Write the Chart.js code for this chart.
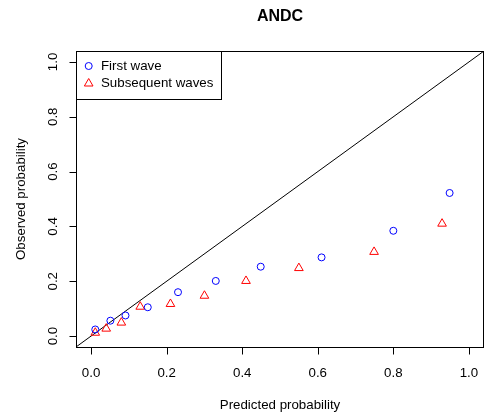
<!DOCTYPE html>
<html>
<head>
<meta charset="utf-8">
<script src="https://cdn.jsdelivr.net/npm/chart.js@4/dist/chart.umd.min.js"></script>
<style>
  html, body { margin: 0; padding: 0; background: #fff; overflow: hidden; }
  canvas { display: block; }
</style>
</head>
<body>
<canvas id="grafico" width="485" height="419"></canvas>
<script>
const titulo = 'ANDC'
const xLabel = 'Predicted probability'
const yLabel = 'Observed probability'
const seriesNames = ['First wave', 'Subsequent waves']
const tickValues = [0.0, 0.2, 0.4, 0.6, 0.8, 1.0]
const tickLabels = ['0.0', '0.2', '0.4', '0.6', '0.8', '1.0']
const axisMin = -0.04
const axisMax = 1.04

// first wave (blue circles)
const firstX = [0.011, 0.051, 0.091, 0.150, 0.230, 0.330, 0.449, 0.610, 0.800, 0.949]
const firstY = [0.024, 0.056, 0.075, 0.105, 0.160, 0.201, 0.253, 0.287, 0.384, 0.522]
// subsequent waves (red triangles)
const subsX = [0.011, 0.040, 0.080, 0.130, 0.210, 0.300, 0.410, 0.550, 0.749, 0.929]
const subsY = [0.012, 0.027, 0.049, 0.107, 0.117, 0.147, 0.201, 0.248, 0.307, 0.410]

const toPoints = (xs, ys) => xs.map((x, i) => ({x: x, y: ys[i]}))
const fonte = '"Liberation Sans", Arial, sans-serif'

const rPlot = {
    id: 'rPlot',
    beforeDatasetsDraw(chart) {
        const {ctx, chartArea: a, scales: {x, y}} = chart
        ctx.save()
        // abline(0,1)
        ctx.beginPath()
        ctx.rect(a.left, a.top, a.right - a.left, a.bottom - a.top)
        ctx.clip()
        ctx.strokeStyle = '#000'
        ctx.lineWidth = 1
        ctx.beginPath()
        ctx.moveTo(x.getPixelForValue(x.min), y.getPixelForValue(x.min))
        ctx.lineTo(x.getPixelForValue(x.max), y.getPixelForValue(x.max))
        ctx.stroke()
        ctx.restore()
    },
    afterDatasetsDraw(chart) {
        const {ctx, chartArea: a, scales: {x, y}} = chart
        ctx.save()
        ctx.strokeStyle = '#000'
        ctx.fillStyle = '#000'
        ctx.lineWidth = 1
        // box
        ctx.strokeRect(Math.round(a.left) + 0.5, Math.round(a.top) + 0.5,
            Math.round(a.right - a.left) - 1, Math.round(a.bottom - a.top))

        ctx.font = '13.3px ' + fonte
        // x axis
        const bx = Math.round(a.bottom) + 0.5
        ctx.beginPath()
        ctx.moveTo(Math.round(x.getPixelForValue(tickValues[0])) + 0.5, bx)
        ctx.lineTo(Math.round(x.getPixelForValue(tickValues[tickValues.length - 1])) + 0.5, bx)
        tickValues.forEach(v => {
            const px = Math.round(x.getPixelForValue(v)) + 0.5
            ctx.moveTo(px, bx)
            ctx.lineTo(px, bx + 7)
        })
        ctx.stroke()
        ctx.textAlign = 'center'
        ctx.textBaseline = 'middle'
        tickValues.forEach((v, i) => {
            ctx.fillText(tickLabels[i], x.getPixelForValue(v), 373)
        })
        // y axis
        const lx = Math.round(a.left) + 0.5
        ctx.beginPath()
        ctx.moveTo(lx, Math.round(y.getPixelForValue(tickValues[0])) + 0.5)
        ctx.lineTo(lx, Math.round(y.getPixelForValue(tickValues[tickValues.length - 1])) + 0.5)
        tickValues.forEach(v => {
            const py = Math.round(y.getPixelForValue(v)) + 0.5
            ctx.moveTo(lx, py)
            ctx.lineTo(lx - 7, py)
        })
        ctx.stroke()
        tickValues.forEach((v, i) => {
            ctx.save()
            ctx.translate(53, y.getPixelForValue(v))
            ctx.rotate(-Math.PI / 2)
            ctx.fillText(tickLabels[i], 0, 0)
            ctx.restore()
        })
        // axis titles
        ctx.fillText(xLabel, (a.left + a.right) / 2, 405)
        ctx.save()
        ctx.translate(21, (a.top + a.bottom) / 2)
        ctx.rotate(-Math.PI / 2)
        ctx.fillText(yLabel, 0, 0)
        ctx.restore()
        // title
        ctx.font = 'bold 16px ' + fonte
        ctx.fillText(titulo, (a.left + a.right) / 2, 17)

        // legend
        ctx.font = '13.3px ' + fonte
        ctx.strokeRect(Math.round(a.left) + 0.5, Math.round(a.top) + 0.5, 145, 48)
        ctx.textAlign = 'left'
        ctx.fillText(seriesNames[0], 101, 66.5)
        ctx.fillText(seriesNames[1], 101, 83)
        ctx.strokeStyle = '#0000FF'
        ctx.beginPath()
        ctx.arc(88.7, 66, 3.5, 0, Math.PI * 2)
        ctx.stroke()
        ctx.strokeStyle = '#FF0000'
        const r = 5
        ctx.beginPath()
        ctx.moveTo(88.7, 83.5 - r)
        ctx.lineTo(88.7 + r * Math.sqrt(3) / 2, 83.5 + r / 2)
        ctx.lineTo(88.7 - r * Math.sqrt(3) / 2, 83.5 + r / 2)
        ctx.closePath()
        ctx.stroke()
        ctx.restore()
    }
}

new Chart(document.getElementById('grafico'), {
    type: 'scatter',
    data: {
        datasets: [{
            label: seriesNames[0],
            data: toPoints(firstX, firstY),
            pointStyle: 'circle',
            pointRadius: 3.5,
            borderColor: '#0000FF',
            backgroundColor: 'rgba(0,0,0,0)',
            borderWidth: 1
        }, {
            label: seriesNames[1],
            data: toPoints(subsX, subsY),
            pointStyle: 'triangle',
            pointRadius: 5,
            borderColor: '#FF0000',
            backgroundColor: 'rgba(0,0,0,0)',
            borderWidth: 1
        }]
    },
    options: {
        responsive: false,
        animation: false,
        layout: {autoPadding: false, padding: {left: 76, right: 1, top: 51, bottom: 72}},
        plugins: {legend: {display: false}, tooltip: {enabled: false}},
        scales: {
            x: {type: 'linear', min: axisMin, max: axisMax, display: false},
            y: {type: 'linear', min: axisMin, max: axisMax, display: false}
        }
    },
    plugins: [rPlot]
})
</script>
</body>
</html>
